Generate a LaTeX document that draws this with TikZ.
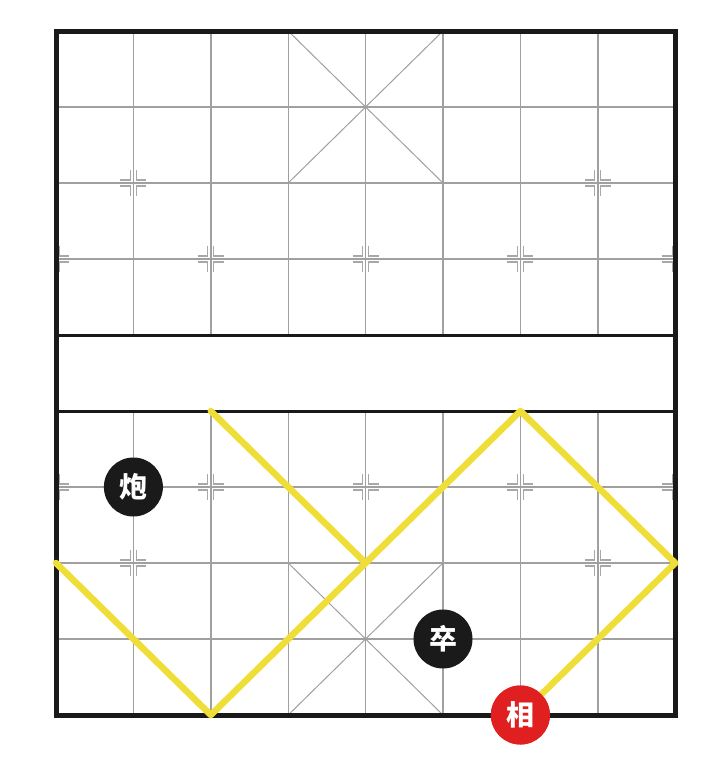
\documentclass[tikz,border=0pt]{standalone}
\usepackage{fontspec}
\newfontfamily\cjk{Noto Sans CJK SC}
\definecolor{gridgray}{HTML}{A0A0A0}
\definecolor{markgray}{HTML}{A8A8A8}
\definecolor{pathyellow}{HTML}{F0DE38}
\definecolor{piecered}{HTML}{E02020}
\definecolor{pieceblack}{HTML}{1A1A1A}
\tikzset{
  gridline/.style={gridgray, line width=1.4pt},
  riverline/.style={black!90, line width=3pt},
  borderline/.style={black!90, line width=5pt},
  palaceline/.style={gridgray, line width=1pt},
  movepath/.style={pathyellow, line width=6.5pt, line cap=round, line join=round},
  piece/.style={circle, minimum size=59pt, inner sep=0pt, text=white,
    font=\cjk\bfseries\fontsize{28}{28}\selectfont},
  blackpiece/.style={piece, fill=pieceblack},
  redpiece/.style={piece, fill=piecered},
  markstyle/.style={markgray, line width=1.3pt},
  pics/markR/.style={code={
    \draw[markstyle] (3,-13) -- (3,-3) -- (13,-3);
    \draw[markstyle] (3,13) -- (3,3) -- (13,3);}},
  pics/markL/.style={code={
    \draw[markstyle] (-3,-13) -- (-3,-3) -- (-13,-3);
    \draw[markstyle] (-3,13) -- (-3,3) -- (-13,3);}},
  pics/markB/.style={code={\pic{markR}; \pic{markL};}}
}
\begin{document}
\begin{tikzpicture}[x=1pt,y=-1pt]
\useasboundingbox (0,0) rectangle (720,763);
\fill[white] (0,0) rectangle (720,763);
% named grid points
\foreach \c in {0,...,8}{
  \foreach \r in {0,...,9}{
    \coordinate (p\c-\r) at ({56+77.4*\c},{31+76*\r});
  }
}
% vertical grid lines
\foreach \c in {1,...,7}{
  \draw[gridline] (p\c-0) -- (p\c-4);
  \draw[gridline] (p\c-5) -- (p\c-9);
}
% horizontal grid lines
\foreach \r in {1,2,3,6,7,8}{
  \draw[gridline] (p0-\r) -- (p8-\r);
}
% palaces
\draw[palaceline] (p3-0) -- (p5-2) (p5-0) -- (p3-2);
\draw[palaceline] (p3-7) -- (p5-9) (p5-7) -- (p3-9);
% markers
\foreach \c/\r in {1/2,7/2,2/3,4/3,6/3,2/6,4/6,6/6,1/7,7/7}{
  \pic at (p\c-\r) {markB};
}
\foreach \r in {3,6}{
  \pic at (p0-\r) {markR};
  \pic at (p8-\r) {markL};
}
% river lines
\draw[riverline] (p0-4) -- (p8-4);
\draw[riverline] (p0-5) -- (p8-5);
% border
\draw[borderline] (p0-0) rectangle (p8-9);
% pieces (positions)
\node[blackpiece] (pao) at (p1-6) {炮};
\node[blackpiece] (zu) at (p5-8) {卒};
\node[redpiece] (xiang) at (p6-9) {};
% yellow move paths
\draw[movepath] (p2-5) -- (p4-7);
\draw[movepath] (p0-7) -- (p2-9) -- (p4-7) -- (p6-5) -- (p8-7) -- (xiang.center);
% red piece on top
\node[redpiece] at (xiang) {相};
\end{tikzpicture}
\end{document}
